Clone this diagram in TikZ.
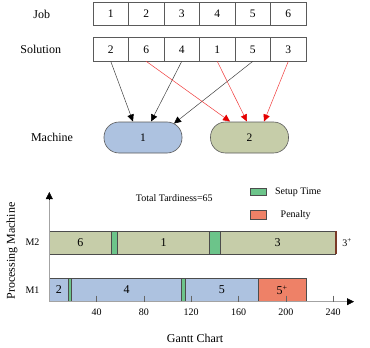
\documentclass[tikz,border=0pt]{standalone}
\usepackage{fontspec}
\setmainfont{Liberation Serif}
\usetikzlibrary{arrows.meta,positioning}
\definecolor{cellline}{HTML}{5A5A5A}
\definecolor{jobblue}{HTML}{ADC2E0}
\definecolor{jobolive}{HTML}{C6CDA9}
\definecolor{setupgreen}{HTML}{6CC48A}
\definecolor{penaltyred}{HTML}{EE8167}
\definecolor{endbrown}{HTML}{7A3A28}
\definecolor{axisgray}{HTML}{A3A3A3}
\definecolor{arrowred}{HTML}{F03A3A}
\tikzset{
  lbl/.style={font=\fontsize{12}{14}\selectfont},
  small/.style={font=\fontsize{10}{12}\selectfont},
  cell/.style={draw=cellline,fill=white,line width=0.6pt,minimum width=35.5pt,minimum height=23.5pt,inner sep=0pt,font=\fontsize{11.5}{13}\selectfont},
  machine/.style={draw=cellline,line width=0.6pt,rounded corners=15pt,minimum width=78pt,minimum height=31pt,font=\fontsize{11.5}{13}\selectfont},
  arrblack/.style={-{Triangle[length=7pt,width=6.5pt,black]},draw=black!75,line width=0.5pt},
  arrred/.style={-{Triangle[length=7pt,width=6.5pt,red!90!black]},draw=arrowred,line width=0.5pt},
  seg/.style={draw=black!70,line width=0.6pt},
  axis/.style={draw=axisgray,line width=1pt},
  tickmark/.style={draw=black!60,line width=0.6pt}
}
\begin{document}
\begin{tikzpicture}[x=1pt,y=-1pt]
\path[use as bounding box] (0,0) rectangle (370,348);
% job and solution rows
\node[lbl] (joblbl) at (41.7,14) {Job};
\node[lbl] (sollbl) at (40.7,49.3) {Solution};
\foreach \v [count=\i] in {1,2,3,4,5,6}
  \node[cell] (j\i) at (75.25+35.5*\i,13.8) {\v};
\foreach \v [count=\i] in {2,6,4,1,5,3}
  \node[cell] (s\i) at (75.25+35.5*\i,49.3) {\v};
% machines
\node[lbl] (maclbl) at (52,137) {Machine};
\node[machine,fill=jobblue] (m1) at (143,137.5) {1};
\node[machine,fill=jobolive] (m2) at (249.5,137.5) {2};
\coordinate (m1a) at (133,121.5);
\coordinate (m1b) at (151,121.5);
\coordinate (m1c) at (174,123.5);
\coordinate (m2a) at (230,121.5);
\coordinate (m2b) at (247,121.5);
\coordinate (m2c) at (264,121.5);
\draw[arrblack] (s1.south) -- (m1a);
\draw[arrblack] (s3.south) -- (m1b);
\draw[arrblack] (s5.south) -- (m1c);
\draw[arrred] (s2.south) -- (m2a);
\draw[arrred] (s4.south) -- (m2b);
\draw[arrred] (s6.south) -- (m2c);
% gantt chart
\node[small] (tard) at (174.3,197.7) {Total Tardiness=65};
\filldraw[seg,fill=setupgreen] (250,188.3) rectangle (266.7,195);
\node[small,anchor=west] (leg1) at (271.5,192) {Setup Time};
\filldraw[seg,fill=penaltyred] (250,210.7) rectangle (266.7,219);
\node[small] (leg2) at (295.7,215) {Penalty};
\foreach \a/\b/\c/\t [count=\i] in {49.3/111.3/jobolive/6, 111.3/117.7/setupgreen/, 117.7/209.3/jobolive/1, 209.3/220.3/setupgreen/, 220.3/335/jobolive/3}
{
\filldraw[seg,fill=\c] (\a,231) rectangle (\b,254.3);
\node[lbl] (gtwo\i) at ({(\a+\b)/2},242.7) {\t};
}
\fill[endbrown] (335,231) rectangle (337.3,254.3);
\node[small] (late2) at (347,242.5) {3\textsuperscript{+}};
\foreach \a/\b/\c/\t [count=\i] in {49.3/68.3/jobblue/2, 68.3/71.7/setupgreen/, 71.7/181.7/jobblue/4, 181.7/185.3/setupgreen/, 185.3/258.3/jobblue/5, 258.3/306/penaltyred/5\textsuperscript{+}}
{
\filldraw[seg,fill=\c] (\a,278.3) rectangle (\b,301.7);
\node[lbl] (gone\i) at ({(\a+\b)/2},290) {\t};
}
\node[small] (mtwo) at (32.5,242.5) {M2};
\node[small] (mone) at (32.5,290) {M1};
\draw[axis] (49.3,301.7) -- (49.3,198);
\draw[axis] (49.3,301.7) -- (348,301.7);
\draw[-{Triangle[length=7pt,width=7pt]},black] (49.3,199) -- (49.3,192);
\draw[-{Triangle[length=7pt,width=7pt]},black] (347,301.7) -- (354,301.7);
\foreach \t [count=\i] in {40,80,120,160,200,240}
{
\draw[tickmark] (49.3+47.3*\i,295.7) -- (49.3+47.3*\i,301.7);
\node[small] (tk\i) at (49.3+47.3*\i,312.3) {\t};
}
\node[lbl,rotate=90] (ylbl) at (12,251) {Processing Machine};
\node[lbl] (xlbl) at (195,338) {Gantt Chart};
\end{tikzpicture}
\end{document}
